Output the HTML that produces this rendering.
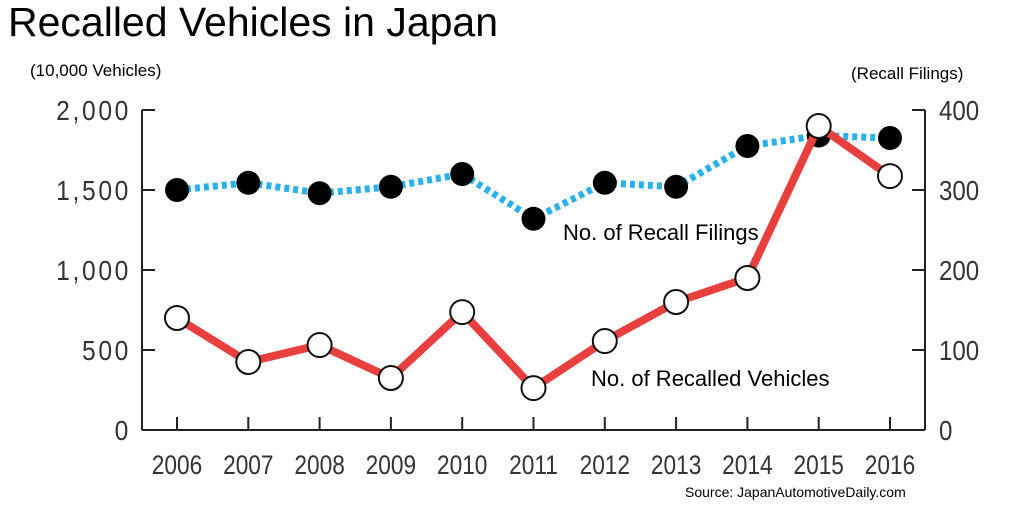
<!DOCTYPE html>
<html><head><meta charset="utf-8"><style>
body{margin:0;background:#fff;width:1024px;height:511px;overflow:hidden}
svg{display:block;font-family:"Liberation Sans",sans-serif}
</style></head><body>
<svg id="chart" width="1024" height="511" viewBox="0 0 1024 511">
<text x="8" y="36" font-size="41" fill="#000">Recalled Vehicles in Japan</text>
<text x="30" y="76" font-size="17" fill="#000">(10,000 Vehicles)</text>
<text x="851" y="79" font-size="17" fill="#000">(Recall Filings)</text>
<text x="685" y="497" font-size="14" fill="#000">Source: JapanAutomotiveDaily.com</text>
<g id="axes"></g>
<g id="marks"></g>
<text x="563" y="240" font-size="22" fill="#000">No. of Recall Filings</text>
<text x="591" y="386" font-size="22" fill="#000">No. of Recalled Vehicles</text>
</svg>
<script>
const years=["2006","2007","2008","2009","2010","2011","2012","2013","2014","2015","2016"];
const vehicles=[700,425,531,325,737,262,556,800,950,1900,1587];
const filings=[300,309,296,304,320,264,309,304,355,368,365];
const leftTicks=[0,500,1000,1500,2000];
const leftTickLabels=["0","500","1,000","1,500","2,000"];
const rightTicks=[0,100,200,300,400];

const NS="http://www.w3.org/2000/svg";
const X0=177,XSTEP=71.3,YB=430,YT=110,LX=142,RX=925;
const xS=i=>X0+i*XSTEP;
const yL=v=>YB-(v/2000)*(YB-YT);
const yR=v=>YB-(v/400)*(YB-YT);
function mk(tag,attrs,parent){const e=document.createElementNS(NS,tag);for(const k in attrs)e.setAttribute(k,attrs[k]);parent.appendChild(e);return e;}
const axes=document.getElementById('axes'),marks=document.getElementById('marks');
const ax="#222";
let e;
e=mk('line',{x1:LX,y1:YT,x2:LX,y2:YB,stroke:ax,'stroke-width':2},axes);


e=mk('line',{x1:RX,y1:YT,x2:RX,y2:YB,stroke:ax,'stroke-width':2},axes);


e=mk('line',{x1:LX,y1:YB,x2:RX,y2:YB,stroke:ax,'stroke-width':2},axes);


leftTicks.forEach((v,i)=>{
  mk('line',{x1:LX,y1:yL(v),x2:LX+13,y2:yL(v),stroke:ax,'stroke-width':2},axes);
  const t=mk('text',{x:0,y:0,'font-size':28,fill:'#333','text-anchor':'end','letter-spacing':3,transform:`translate(131,${yL(v)+10}) scale(0.88,1)`},axes);
  t.textContent=leftTickLabels[i];
  
  
});
rightTicks.forEach(v=>{
  mk('line',{x1:RX-13,y1:yR(v),x2:RX,y2:yR(v),stroke:ax,'stroke-width':2},axes);
  const t=mk('text',{x:0,y:0,'font-size':28,fill:'#333',transform:`translate(939,${yR(v)+10}) scale(0.86,1)`},axes);
  t.textContent=String(v);
  
  
});
years.forEach((y,i)=>{
  mk('line',{x1:xS(i),y1:YB-13,x2:xS(i),y2:YB,stroke:ax,'stroke-width':2},axes);
  const t=mk('text',{x:0,y:0,'font-size':27,fill:'#333','text-anchor':'middle',transform:`translate(${xS(i)},${YB+44}) scale(0.84,1)`},axes);
  t.textContent=y;
  
  
});
const fPts=filings.map((v,i)=>xS(i)+','+yR(v)).join(' ');
e=mk('polyline',{points:fPts,fill:'none',stroke:'#2ab0ea','stroke-width':7,'stroke-dasharray':'5 4'},marks);


filings.forEach((v,i)=>{
  const c=mk('circle',{cx:xS(i),cy:yR(v),r:12,fill:'#000'},marks);
  
  
});
const vPts=vehicles.map((v,i)=>xS(i)+','+yL(v)).join(' ');
e=mk('polyline',{points:vPts,fill:'none',stroke:'#e8403e','stroke-width':8,'stroke-linejoin':'round'},marks);


vehicles.forEach((v,i)=>{
  const c=mk('circle',{cx:xS(i),cy:yL(v),r:12,fill:'#fff',stroke:'#111','stroke-width':2},marks);
  
  
});
</script>
</body></html>
